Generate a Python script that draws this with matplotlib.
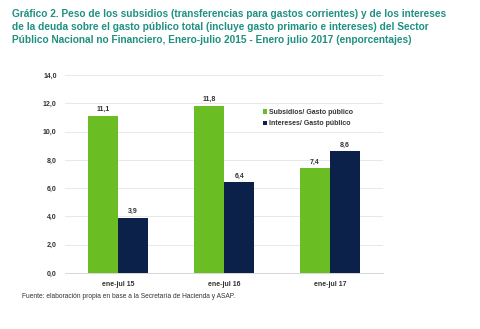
import matplotlib
matplotlib.use("Agg")
import matplotlib.pyplot as plt
import numpy as np

categories = ["ene-jul 15", "ene-jul 16", "ene-jul 17"]
subsidios = [11.1, 11.8, 7.4]
intereses = [3.9, 6.4, 8.6]
series_names = ["Subsidios/ Gasto público", "Intereses/ Gasto público"]
yticks = [0, 2, 4, 6, 8, 10, 12, 14]

plt.rcParams['font.family'] = ['Liberation Sans', 'DejaVu Sans']

fig = plt.figure(figsize=(4.8, 3.29), dpi=100)
W, H = 480, 329
ax = fig.add_axes([65 / W, 1 - 273 / H, (383 - 65) / W, (273 - 75) / H])

green = "#6abd22"
navy = "#0b2149"
x = np.arange(len(categories))
w = 0.285
b1 = ax.bar(x - w / 2, subsidios, w, color=green, label=series_names[0])
b2 = ax.bar(x + w / 2, intereses, w, color=navy, label=series_names[1])

for bars, vals in ((b1, subsidios), (b2, intereses)):
    for r, v in zip(bars, vals):
        ax.text(r.get_x() + r.get_width() / 2, v + 0.2, f"{v:.1f}".replace(".", ","),
                ha="center", va="bottom", fontsize=5, fontweight="bold", color="#333333")

ax.set_xlim(-0.5, 2.5)
ax.set_ylim(0, 14)
ax.set_yticks(yticks)
ax.set_yticklabels([f"{t:.1f}".replace(".", ",") for t in yticks], fontsize=5,
                   fontweight="bold", color="#333333")
ax.set_xticks(x)
ax.set_xticklabels(categories, fontsize=5, fontweight="bold", color="#333333")
ax.tick_params(axis="both", length=0, pad=6)
ax.grid(axis="y", color="#e4e4e4", linewidth=0.6)
ax.set_axisbelow(True)
for s in ["top", "right", "left"]:
    ax.spines[s].set_visible(False)
ax.spines["bottom"].set_color("#d0d0d0")
ax.spines["bottom"].set_linewidth(0.6)

leg = ax.legend(loc="upper left", bbox_to_anchor=((263 - 65) / (383 - 65), (273 - 109) / (273 - 75)),
                frameon=False, fontsize=5, handlelength=0.6, handleheight=0.6,
                handletextpad=0.3, labelspacing=0.6, borderaxespad=0, borderpad=0)
for t in leg.get_texts():
    t.set_fontweight("bold")
    t.set_color("#333333")

title = ("Gráfico 2. Peso de los subsidios (transferencias para gastos corrientes) y de los intereses\n"
         "de la deuda sobre el gasto público total (incluye gasto primario e intereses) del Sector\n"
         "Público Nacional no Financiero, Enero-julio 2015 - Enero julio 2017 (enporcentajes)")
fig.text(12 / W, 1 - 9 / H, title, ha="left", va="top", fontsize=7.3, fontweight="bold",
         color="#1f9180", linespacing=1.38)

fig.text(22 / W, 1 - 297 / H, "Fuente: elaboración propia en base a la Secretaría de Hacienda y ASAP.",
         ha="left", va="center", fontsize=4.8, color="#333333")

fig.savefig("out.png", dpi=100)
